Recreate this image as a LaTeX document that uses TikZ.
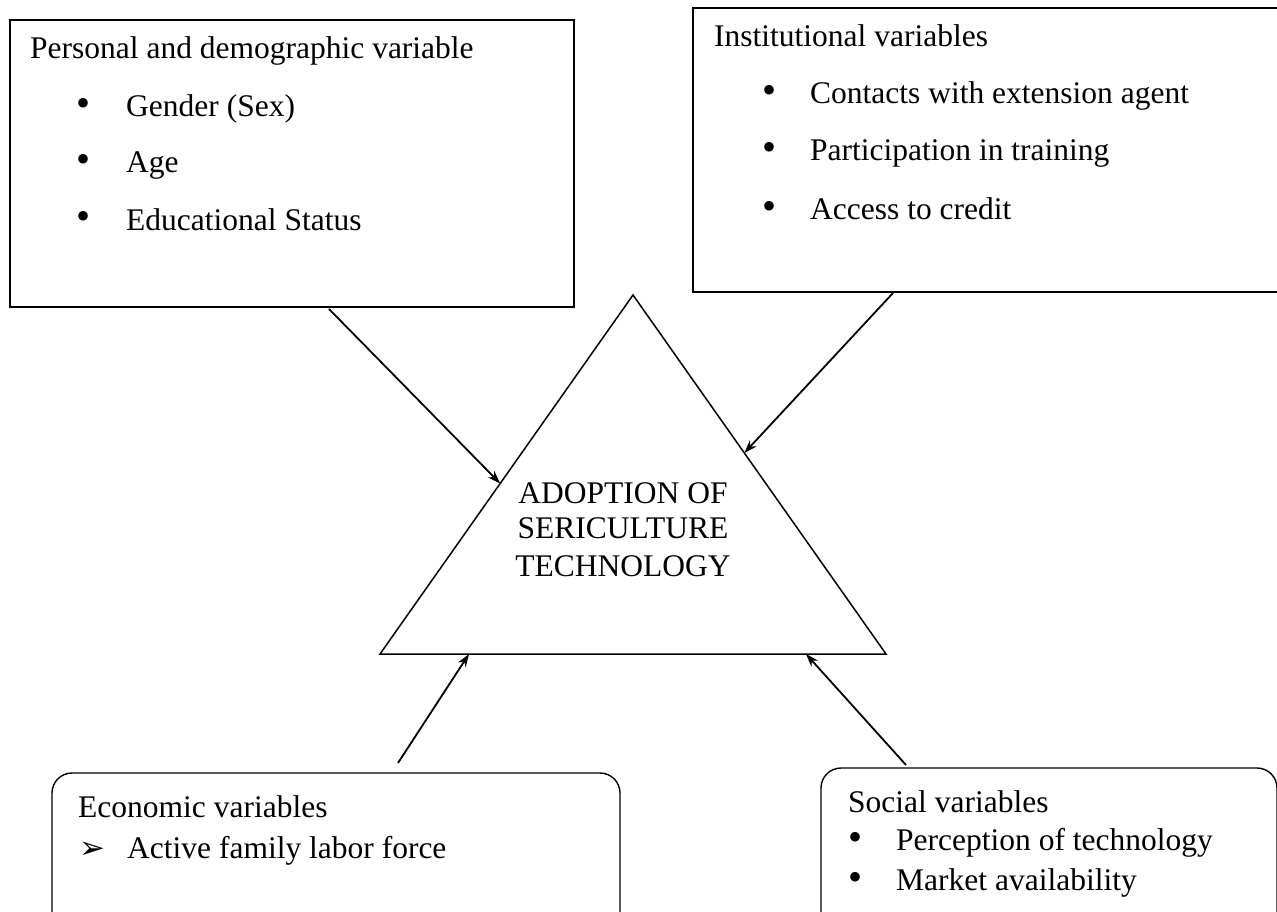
\documentclass[tikz,border=0pt]{standalone}
\usepackage{fontspec}
\setmainfont{Liberation Serif}
\newfontfamily\dejavu{DejaVu Sans}
\usetikzlibrary{arrows.meta,calc}
\begin{document}
\begin{tikzpicture}[x=1pt,y=-1pt,
  sqbox/.style={draw, line width=1.8pt, anchor=north west, inner sep=0pt, outer sep=0pt},
  rbox/.style={draw, line width=1.4pt, rounded corners=20pt, anchor=north west, inner sep=0pt, outer sep=0pt},
  txt/.style={anchor=base west, inner sep=0pt, font=\fontsize{31.5}{38}\selectfont},
  bul/.style={anchor=center, inner sep=0pt, font=\fontsize{40}{44}\selectfont},
  ttxt/.style={anchor=base, inner sep=0pt, font=\fontsize{31.5}{38}\selectfont},
  conn/.style={line width=1.8pt, -{Stealth[length=13pt,width=9pt]}}]
\useasboundingbox (0,0) rectangle (1277,912);
\clip (0,0) rectangle (1277,912);

% boxes
\node[sqbox, minimum width=564pt, minimum height=287pt] (pd) at (10,20) {};
\node[sqbox, minimum width=588pt, minimum height=284pt] (inst) at (693,8) {};
\node[rbox, minimum width=568pt, minimum height=200pt] (econ) at (52,773) {};
\node[rbox, minimum width=456pt, minimum height=200pt] (soc) at (821,768) {};

% triangle
\coordinate (apex) at (633,295);
\coordinate (br) at (886,654);
\coordinate (bl) at (380,654);
\draw[line width=1.5pt] (apex) -- (br) -- (bl) -- cycle;
\node[ttxt] (t1) at (623,503) {ADOPTION OF};
\node[ttxt] (t2) at (623,538) {SERICULTURE};
\node[ttxt] (t3) at (623,576) {TECHNOLOGY};

% personal box text
\node[txt] (pdt) at (30,59) {Personal and demographic variable};
\node[bul] (pb1) at (84,107) {•};
\node[bul] (pb2) at (84,163) {•};
\node[bul] (pb3) at (84,220) {•};
\node[txt] (pi1) at (126,117) {Gender (Sex)};
\node[txt] (pi2) at (126,173) {Age};
\node[txt] (pi3) at (126,230) {Educational Status};

% institutional box text
\node[txt] (it) at (714,47) {Institutional variables};
\node[bul] (ib1) at (769,94) {•};
\node[bul] (ib2) at (769,151) {•};
\node[bul] (ib3) at (769,210) {•};
\node[txt] (ii1) at (810,104) {Contacts with extension agent};
\node[txt] (ii2) at (810,161) {Participation in training};
\node[txt] (ii3) at (810,220) {Access to credit};

% economic box text
\node[txt] (et) at (78,817) {Economic variables};
\node[anchor=base west, inner sep=0pt, font=\dejavu\fontsize{31}{34}\selectfont] (eb1) at (79,858) {➢};
\node[txt] (ei1) at (127,858) {Active family labor force};

% social box text
\node[txt] (st) at (848,812) {Social variables};
\node[bul] (sb1) at (855,841) {•};
\node[bul] (sb2) at (855,881) {•};
\node[txt] (si1) at (896,850) {Perception of technology};
\node[txt] (si2) at (896,890) {Market availability};

% connectors
\coordinate (s1) at (329,309);
\coordinate (s2) at (893,293);
\coordinate (s3) at (398,763);
\coordinate (s4) at (906,765);
\coordinate (e1) at ($(apex)!0.525!(bl)$);
\coordinate (e2) at ($(apex)!0.44!(br)$);
\coordinate (e3) at (469,654);
\coordinate (e4) at (806,654);
\draw[conn] (s1) -- (e1);
\draw[conn] (s2) -- (e2);
\draw[conn] (s3) -- (e3);
\draw[conn] (s4) -- (e4);
\end{tikzpicture}
\end{document}
